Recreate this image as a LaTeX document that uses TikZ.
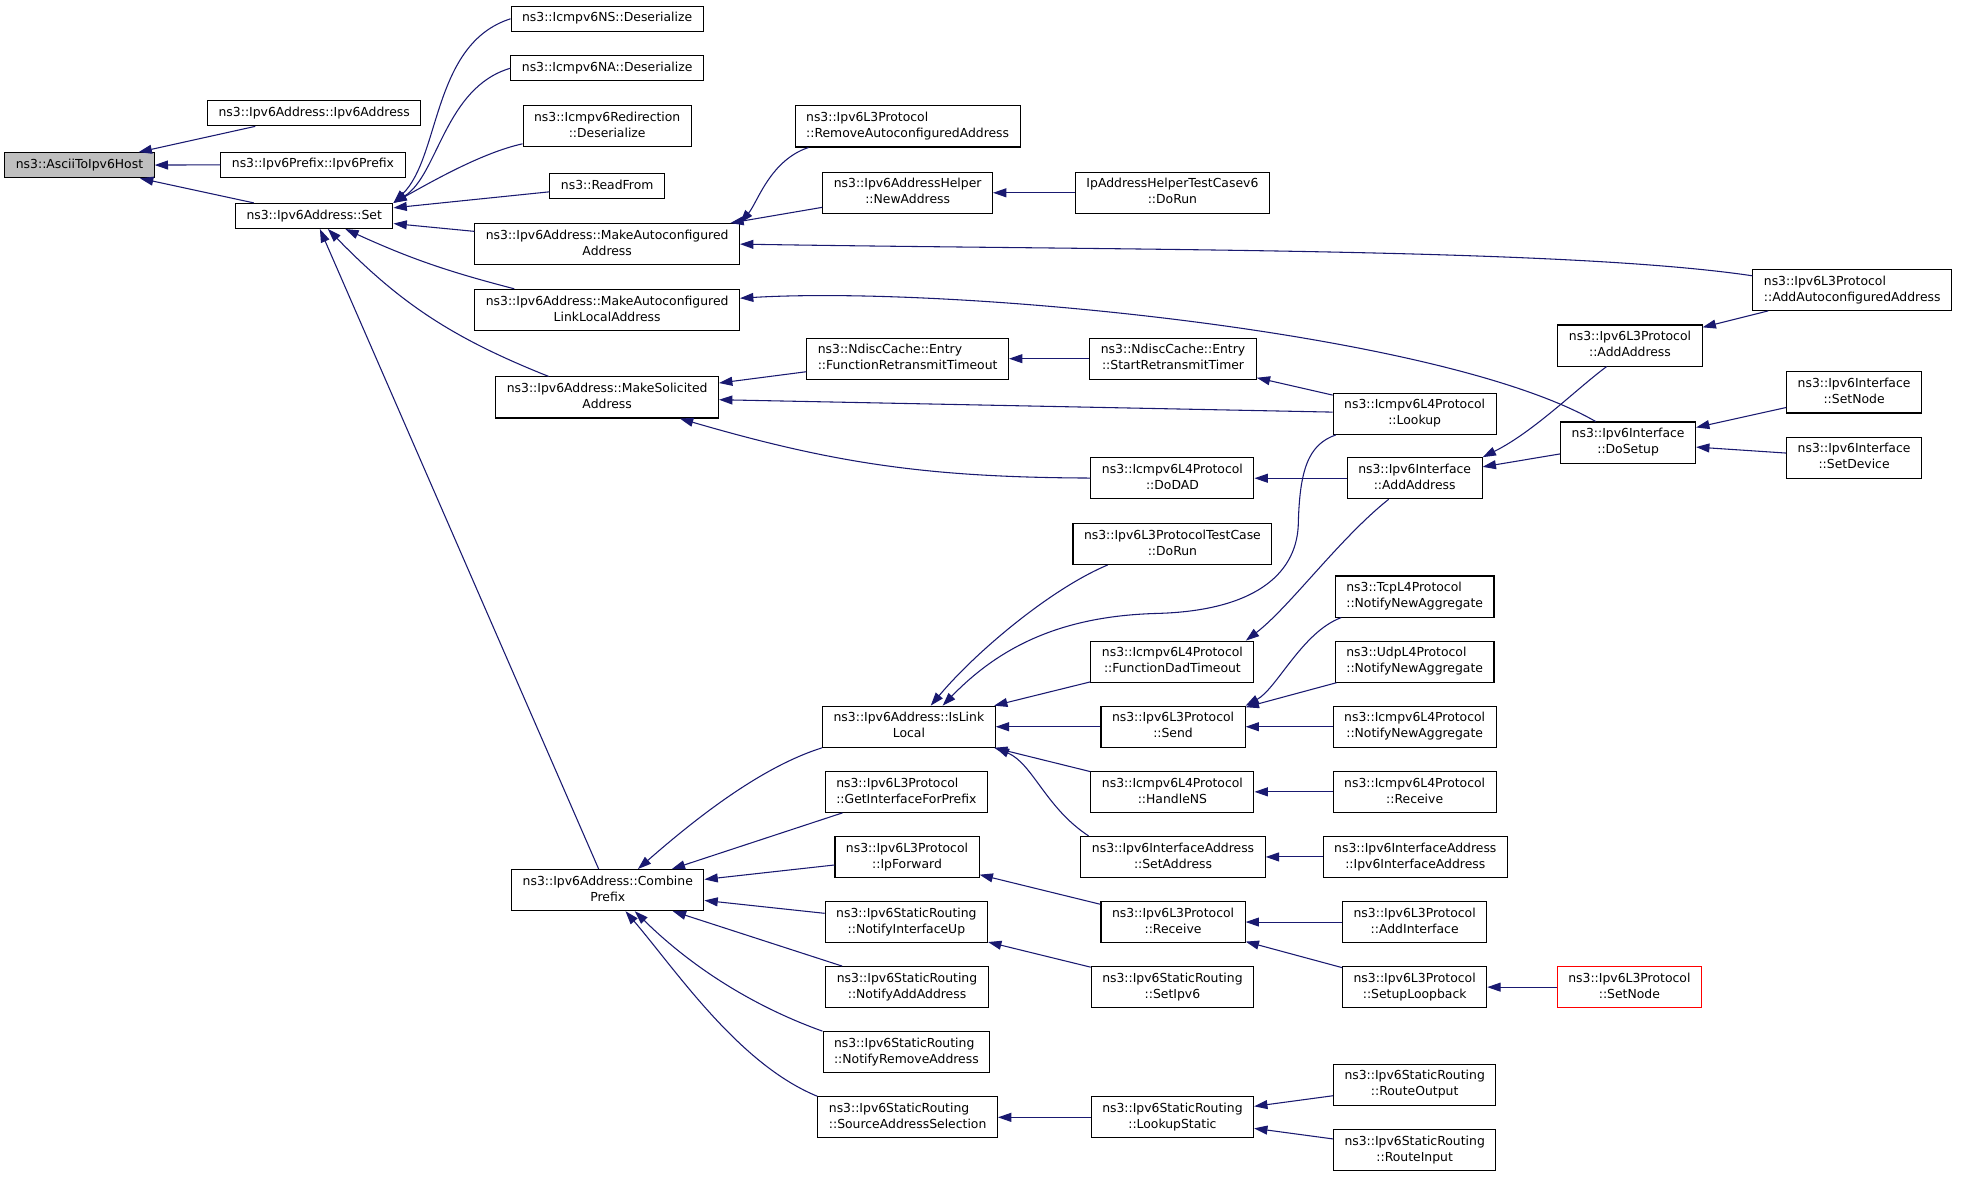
\documentclass[tikz,border=0pt]{standalone}
\usepackage{fontspec}
\setmainfont{DejaVu Sans}
\usepackage{tikz}
\usetikzlibrary{arrows.meta}

% colour of the call connectors
\definecolor{colEdge}{HTML}{191970}
% colour of the function the graph is drawn for
\definecolor{colRoot}{HTML}{BFBFBF}

% one line label, two line label (first line left, last line centred)
\newcommand{\fnone}[1]{\begin{tabular}{@{}c@{}}#1\end{tabular}}
\newcommand{\fntwo}[2]{\begin{tabular}{@{}l@{}}#1\\\multicolumn{1}{@{}c@{}}{#2}\end{tabular}}

\tikzset{
  fn/.style={draw=black, fill=white, line width=0.8pt, inner xsep=8.25pt,
    inner ysep=3.4pt, font=\fontsize{9.3}{12}\selectfont},
  fnroot/.style={fn, fill=colRoot},
  fntrunc/.style={fn, draw=red},
  calls/.style={{Triangle[length=10pt,width=6.7pt]}-, draw=colEdge, line width=0.8pt},
}

\begin{document}
\begin{tikzpicture}[x=0.9389pt, y=-0.9389pt]

  \path[use as bounding box, fill=white] (0,0) rectangle (1568,939.4);

  % the function and its direct callers
  \node[fnroot] (host) at (63.5,132) {\fnone{ns3::AsciiToIpv6Host}};
  \node[fn] (v6ctor) at (251,90.5) {\fnone{ns3::Ipv6Address::Ipv6Address}};
  \node[fn] (pfxctor) at (250,131.5) {\fnone{ns3::Ipv6Prefix::Ipv6Prefix}};
  \node[fn] (set) at (251,172.5) {\fnone{ns3::Ipv6Address::Set}};

  % callers of Set
  \node[fn] (nsDes) at (485,15) {\fnone{ns3::Icmpv6NS::Deserialize}};
  \node[fn] (naDes) at (485,54.5) {\fnone{ns3::Icmpv6NA::Deserialize}};
  \node[fn] (redirDes) at (485,100.5) {\fntwo{ns3::Icmpv6Redirection}{::Deserialize}};
  \node[fn] (readFrom) at (485,148.5) {\fnone{ns3::ReadFrom}};
  \node[fn] (mkAuto) at (485,195) {\fntwo{ns3::Ipv6Address::MakeAutoconfigured}{Address}};
  \node[fn] (mkLink) at (485,247.5) {\fntwo{ns3::Ipv6Address::MakeAutoconfigured}{LinkLocalAddress}};
  \node[fn] (mkSol) at (485,317.5) {\fntwo{ns3::Ipv6Address::MakeSolicited}{Address}};
  \node[fn] (combine) at (485.5,711) {\fntwo{ns3::Ipv6Address::Combine}{Prefix}};

  % third column
  \node[fn] (rmAuto) at (725,101) {\fntwo{ns3::Ipv6L3Protocol}{::RemoveAutoconfiguredAddress}};
  \node[fn] (newAddr) at (725,154) {\fntwo{ns3::Ipv6AddressHelper}{::NewAddress}};
  \node[fn] (fnRetx) at (725,286.5) {\fntwo{ns3::NdiscCache::Entry}{::FunctionRetransmitTimeout}};
  \node[fn] (isLL) at (726,580.5) {\fntwo{ns3::Ipv6Address::IsLink}{Local}};
  \node[fn] (getIf) at (724,632.5) {\fntwo{ns3::Ipv6L3Protocol}{::GetInterfaceForPrefix}};
  \node[fn] (ipFwd) at (724.5,684.5) {\fntwo{ns3::Ipv6L3Protocol}{::IpForward}};
  \node[fn] (ifUp) at (724,736.5) {\fntwo{ns3::Ipv6StaticRouting}{::NotifyInterfaceUp}};
  \node[fn] (addAddrN) at (724.5,788.5) {\fntwo{ns3::Ipv6StaticRouting}{::NotifyAddAddress}};
  \node[fn] (rmAddrN) at (724,840.5) {\fntwo{ns3::Ipv6StaticRouting}{::NotifyRemoveAddress}};
  \node[fn] (srcSel) at (725,892.5) {\fntwo{ns3::Ipv6StaticRouting}{::SourceAddressSelection}};

  % fourth column
  \node[fn] (helperRun) at (936.5,154) {\fntwo{IpAddressHelperTestCasev6}{::DoRun}};
  \node[fn] (startRetx) at (937,286.5) {\fntwo{ns3::NdiscCache::Entry}{::StartRetransmitTimer}};
  \node[fn] (doDad) at (936.5,382) {\fntwo{ns3::Icmpv6L4Protocol}{::DoDAD}};
  \node[fn] (l3Run) at (936.5,434.5) {\fntwo{ns3::Ipv6L3ProtocolTestCase}{::DoRun}};
  \node[fn] (fnDad) at (936.5,528.5) {\fntwo{ns3::Icmpv6L4Protocol}{::FunctionDadTimeout}};
  \node[fn] (send) at (937,580.5) {\fntwo{ns3::Ipv6L3Protocol}{::Send}};
  \node[fn] (handleNS) at (936.5,632.5) {\fntwo{ns3::Icmpv6L4Protocol}{::HandleNS}};
  \node[fn] (setAddr) at (937,684.5) {\fntwo{ns3::Ipv6InterfaceAddress}{::SetAddress}};
  \node[fn] (l3Recv) at (937,736.5) {\fntwo{ns3::Ipv6L3Protocol}{::Receive}};
  \node[fn] (setIpv6) at (936.5,788.5) {\fntwo{ns3::Ipv6StaticRouting}{::SetIpv6}};
  \node[fn] (lookupSt) at (936.5,892.5) {\fntwo{ns3::Ipv6StaticRouting}{::LookupStatic}};

  % fifth column
  \node[fn] (lookup) at (1130,330.5) {\fntwo{ns3::Icmpv6L4Protocol}{::Lookup}};
  \node[fn] (ifAdd) at (1130,382) {\fntwo{ns3::Ipv6Interface}{::AddAddress}};
  \node[fn] (tcpAgg) at (1130,476.5) {\fntwo{ns3::TcpL4Protocol}{::NotifyNewAggregate}};
  \node[fn] (udpAgg) at (1130,528.5) {\fntwo{ns3::UdpL4Protocol}{::NotifyNewAggregate}};
  \node[fn] (icmpAgg) at (1130,580.5) {\fntwo{ns3::Icmpv6L4Protocol}{::NotifyNewAggregate}};
  \node[fn] (icmpRecv) at (1130,632.5) {\fntwo{ns3::Icmpv6L4Protocol}{::Receive}};
  \node[fn] (ifaCtor) at (1130.5,684.5) {\fntwo{ns3::Ipv6InterfaceAddress}{::Ipv6InterfaceAddress}};
  \node[fn] (addIf) at (1130,736.5) {\fntwo{ns3::Ipv6L3Protocol}{::AddInterface}};
  \node[fn] (loopback) at (1130,788.5) {\fntwo{ns3::Ipv6L3Protocol}{::SetupLoopback}};
  \node[fn] (routeOut) at (1130,866.5) {\fntwo{ns3::Ipv6StaticRouting}{::RouteOutput}};
  \node[fn] (routeIn) at (1130,918.5) {\fntwo{ns3::Ipv6StaticRouting}{::RouteInput}};

  % right columns
  \node[fn] (l3Add) at (1302,276) {\fntwo{ns3::Ipv6L3Protocol}{::AddAddress}};
  \node[fn] (doSetup) at (1300.5,353.5) {\fntwo{ns3::Ipv6Interface}{::DoSetup}};
  \node[fntrunc] (l3Node) at (1301.5,788.5) {\fntwo{ns3::Ipv6L3Protocol}{::SetNode}};
  \node[fn] (addAuto) at (1479.5,231.5) {\fntwo{ns3::Ipv6L3Protocol}{::AddAutoconfiguredAddress}};
  \node[fn] (ifNode) at (1481,313.5) {\fntwo{ns3::Ipv6Interface}{::SetNode}};
  \node[fn] (ifDev) at (1481,365.5) {\fntwo{ns3::Ipv6Interface}{::SetDevice}};

  % calls into AsciiToIpv6Host and Set
  \draw[calls] (host) -- (v6ctor);
  \draw[calls] (host) -- (pfxctor);
  \draw[calls] (host) -- (set);
  \draw[calls] (set.north east) .. controls (352,125) and (345,35) .. (nsDes.west);
  \draw[calls] (set.north east) .. controls (350,140) and (355,70) .. (naDes.west);
  \draw[calls] (set.north east) .. controls (345,145) and (385,122) .. (redirDes.192);
  \draw[calls] (set) -- (readFrom);
  \draw[calls] (set) -- (mkAuto);
  \draw[calls] (set) to[bend right=5] (mkLink);
  \draw[calls] (set) to[bend right=12] (mkSol);
  \draw[calls] (set) -- (combine);

  % calls into the address makers
  \draw[calls] (mkAuto.9) .. controls (605,162) and (615,128) .. (rmAuto.192);
  \draw[calls] (mkAuto) -- (newAddr);
  \draw[calls] (mkAuto.east) .. controls (900,200) and (1250,198) .. (addAuto.172);
  \draw[calls] (mkLink.5) .. controls (760,228) and (1150,265) .. (doSetup.147);
  \draw[calls] (mkSol) -- (fnRetx);
  \draw[calls] (mkSol) -- (lookup);
  \draw[calls] (mkSol) to[bend right=8] (doDad);
  \draw[calls] (newAddr) -- (helperRun);
  \draw[calls] (fnRetx) -- (startRetx);
  \draw[calls] (startRetx) -- (lookup);
  \draw[calls] (doDad) -- (ifAdd);
  \draw[calls] (l3Add) -- (addAuto);
  \draw[calls] (ifAdd.north east) .. controls (1225,345) and (1260,310) .. (l3Add.222);
  \draw[calls] (ifAdd) -- (doSetup);
  \draw[calls] (doSetup) -- (ifNode);
  \draw[calls] (doSetup) -- (ifDev);
  \draw[calls] (fnDad.16) .. controls (1030,485) and (1070,430) .. (ifAdd.219);

  % calls into IsLinkLocal and Send
  \draw[calls] (isLL.44) .. controls (780,520) and (840,470) .. (l3Run.198);
  \draw[calls] (isLL.32) .. controls (800,515) and (850,492) .. (924,490)
    .. controls (1000,488) and (1035,460) .. (1037,420)
    .. controls (1038,375) and (1045,355) .. (lookup.195);
  \draw[calls] (isLL) -- (fnDad);
  \draw[calls] (isLL) -- (send);
  \draw[calls] (isLL) -- (handleNS);
  \draw[calls] (isLL.south east) .. controls (825,610) and (835,645) .. (setAddr.166);
  \draw[calls] (send.north east) .. controls (1020,550) and (1040,505) .. (tcpAgg.196);
  \draw[calls] (send) -- (udpAgg);
  \draw[calls] (send) -- (icmpAgg);
  \draw[calls] (handleNS) -- (icmpRecv);
  \draw[calls] (setAddr) -- (ifaCtor);

  % calls into CombinePrefix
  \draw[calls] (combine.35) .. controls (560,650) and (610,612) .. (isLL.south west);
  \draw[calls] (combine) -- (getIf);
  \draw[calls] (combine) -- (ipFwd);
  \draw[calls] (combine) -- (ifUp);
  \draw[calls] (combine) -- (addAddrN);
  \draw[calls] (combine.-38) .. controls (555,775) and (605,805) .. (rmAddrN.north west);
  \draw[calls] (combine.-50) .. controls (540,775) and (590,850) .. (srcSel.north west);

  % lower right
  \draw[calls] (ipFwd) -- (l3Recv);
  \draw[calls] (l3Recv) -- (addIf);
  \draw[calls] (l3Recv) -- (loopback);
  \draw[calls] (ifUp) -- (setIpv6);
  \draw[calls] (loopback) -- (l3Node);
  \draw[calls] (srcSel) -- (lookupSt);
  \draw[calls] (lookupSt) -- (routeOut);
  \draw[calls] (lookupSt) -- (routeIn);

\end{tikzpicture}
\end{document}
